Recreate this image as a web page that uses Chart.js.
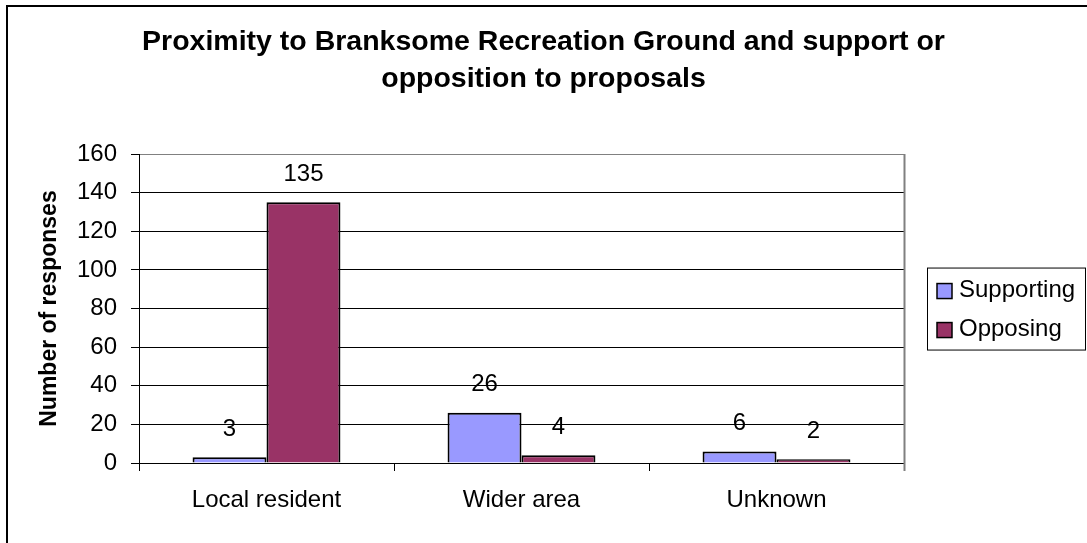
<!DOCTYPE html>
<html>
<head>
<meta charset="utf-8">
<title>Proximity to Branksome Recreation Ground</title>
<script src="https://cdn.jsdelivr.net/npm/chart.js@4.4.1/dist/chart.umd.min.js"></script>
<style>
  html, body { margin: 0; padding: 0; background: #fff; }
  #wrap { width: 1087px; height: 543px; }
</style>
</head>
<body>
<div id="wrap"><canvas id="chart"></canvas></div>
<script>
// -----------------------------
// DATA
// -----------------------------
const categories = ["Local resident", "Wider area", "Unknown"];
const supporting = [3, 26, 6];
const opposing = [135, 4, 2];
const seriesNames = ["Supporting", "Opposing"];
const seriesColors = ["#9999FF", "#993366"];

const yMin = 0;
const yMax = 160;
const yStep = 20;

const titleLines = [
    "Proximity to Branksome Recreation Ground and support or",
    "opposition to proposals"
];
const yTitle = "Number of responses";

const FONT = 'Arial, "Liberation Sans", sans-serif';


// -----------------------------
// PLUGINS
// -----------------------------

// white page + outer frame (only top/left edges are inside the picture)
const framePlugin = {
    id: 'frame',
    beforeDraw(chart) {
        const ctx = chart.ctx;
        ctx.save();
        ctx.fillStyle = "#fff";
        ctx.fillRect(0, 0, chart.width, chart.height);
        ctx.strokeStyle = "#000";
        ctx.lineWidth = 2;
        ctx.strokeRect(7, 6, chart.width + 20, chart.height + 20);
        ctx.restore();
    }
};

// keep room on the right for the boxed legend
const reserveRight = {
    id: 'reserveRight',
    beforeInit(chart) {
        const legend = chart.legend;
        const fit = legend.fit;
        legend.fit = function () {
            fit.call(this);
            this.width = 183;
        };
    }
};

// value labels above the bars
const valueLabels = {
    id: 'valueLabels',
    afterDatasetsDraw(chart) {
        const ctx = chart.ctx;
        ctx.save();
        ctx.font = "24px " + FONT;
        ctx.fillStyle = "#000";
        ctx.textAlign = "center";
        ctx.textBaseline = "middle";
        chart.data.datasets.forEach((ds, i) => {
            chart.getDatasetMeta(i).data.forEach((bar, j) => {
                ctx.fillText(String(ds.data[j]), bar.x, bar.y - 28);
            });
        });
        ctx.restore();
    }
};

// plot-area right edge + legend box
const plotExtras = {
    id: 'plotExtras',
    afterDraw(chart) {
        const ctx = chart.ctx;
        const a = chart.chartArea;
        ctx.save();

        ctx.strokeStyle = "#808080";
        ctx.lineWidth = 2;
        ctx.beginPath();
        ctx.moveTo(a.right + 0.5, a.top);
        ctx.lineTo(a.right + 0.5, a.bottom + 8);
        ctx.stroke();

        // legend
        const mid = (a.top + a.bottom) / 2;
        const bx = a.right + 23;
        const by = mid - 41;
        ctx.strokeStyle = "#000";
        ctx.lineWidth = 1;
        ctx.strokeRect(bx + 0.5, by + 0.5, 158, 82);

        ctx.font = "24px " + FONT;
        ctx.textAlign = "left";
        ctx.textBaseline = "middle";
        chart.data.datasets.forEach((ds, i) => {
            const cy = by + 23 + i * 39;
            ctx.fillStyle = ds.backgroundColor;
            ctx.fillRect(bx + 10, cy - 7, 15, 15);
            ctx.strokeStyle = "#000";
            ctx.lineWidth = 1.5;
            ctx.strokeRect(bx + 10, cy - 7, 15, 15);
            ctx.fillStyle = "#000";
            ctx.fillText(ds.label, bx + 32, cy);
        });
        ctx.restore();
    }
};


// -----------------------------
// CHART
// -----------------------------
const ctx = document.getElementById("chart").getContext("2d");

new Chart(ctx, {
    type: "bar",
    data: {
        labels: categories,
        datasets: [
            {
                label: seriesNames[0],
                data: supporting,
                backgroundColor: seriesColors[0],
                borderColor: "#000",
                borderWidth: 2
            },
            {
                label: seriesNames[1],
                data: opposing,
                backgroundColor: seriesColors[1],
                borderColor: "#000",
                borderWidth: 2
            }
        ]
    },
    options: {
        responsive: true,
        maintainAspectRatio: false,
        animation: false,
        devicePixelRatio: 1,
        layout: { padding: 0 },
        datasets: {
            bar: { categoryPercentage: 0.58, barPercentage: 1 }
        },
        plugins: {
            legend: { display: false, position: "right" },
            tooltip: { enabled: false },
            title: {
                display: true,
                text: titleLines,
                color: "#000",
                font: { family: FONT, size: 28.5, weight: "bold", lineHeight: 1.3 },
                padding: { top: 23.5, bottom: 56.5 }
            }
        },
        scales: {
            x: {
                offset: true,
                grid: {
                    display: true,
                    offset: true,
                    drawOnChartArea: false,
                    drawTicks: true,
                    tickLength: 8,
                    color: "#000"
                },
                border: { color: "#000", width: 1 },
                ticks: {
                    color: "#000",
                    font: { family: FONT, size: 24 },
                    padding: 15,
                    maxRotation: 0
                },
                afterFit(scale) { scale.height = 80; }
            },
            y: {
                min: yMin,
                max: yMax,
                ticks: {
                    stepSize: yStep,
                    color: "#000",
                    font: { family: FONT, size: 24 },
                    padding: 14
                },
                grid: {
                    color: c => (c.tick && c.tick.value === yMax) ? "#808080" : "#000",
                    tickColor: "#000",
                    tickLength: 8
                },
                border: { color: "#000", width: 1 },
                title: {
                    display: true,
                    text: yTitle,
                    color: "#000",
                    font: { family: FONT, size: 23, weight: "bold" },
                    padding: { top: 36, bottom: 0 }
                },
                afterFit(scale) { scale.width = 139; }
            }
        }
    },
    plugins: [framePlugin, reserveRight, valueLabels, plotExtras]
});
</script>
</body>
</html>
